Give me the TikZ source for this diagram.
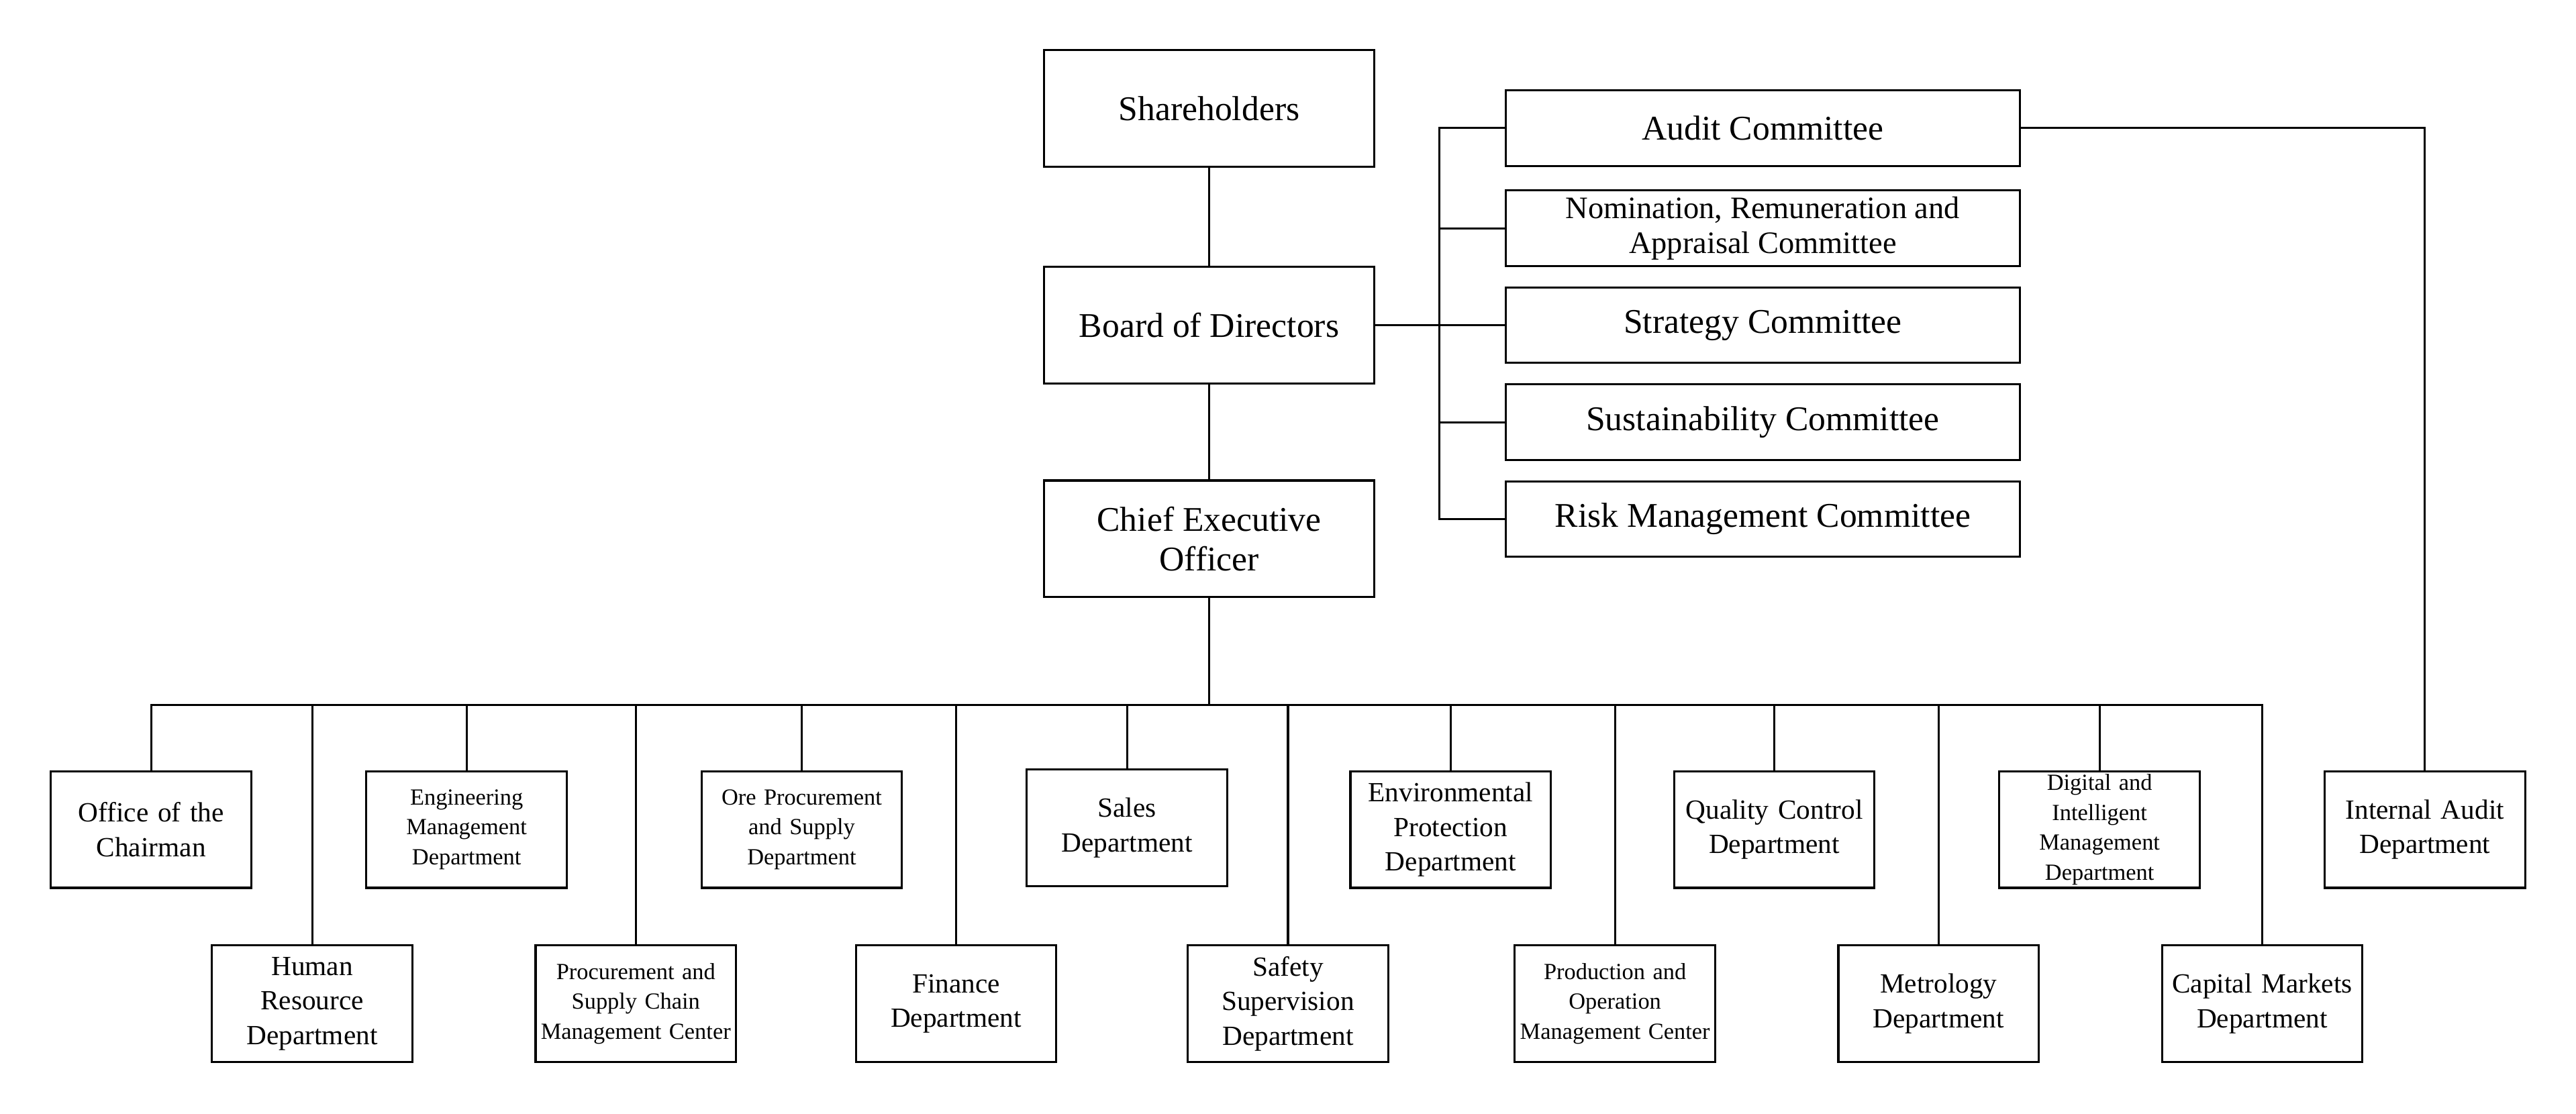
\documentclass[tikz,border=0pt]{standalone}
\usepackage{fontspec}
\setmainfont{Liberation Serif}
\usetikzlibrary{positioning}

\tikzset{
  box/.style={draw, line width=0.9pt, inner sep=1pt, align=center},
  head/.style={box, minimum width=201*0.025cm, minimum height=71*0.025cm, font=\fontsize{15}{17}\selectfont},
  cmte/.style={box, minimum width=313*0.025cm, minimum height=46*0.025cm, font=\fontsize{15}{17}\selectfont},
  dept/.style={box, minimum width=122*0.025cm, minimum height=71*0.025cm, text width=122*0.025cm-4pt, font=\fontsize{12}{15}\selectfont},
  small/.style={font=\fontsize{10}{13}\selectfont},
  link/.style={line width=0.9pt}
}

\begin{document}
\begin{tikzpicture}[x=0.025cm, y=-0.025cm]
  \useasboundingbox (0,0) rectangle (1568,678);

  % top of the chart
  \node[head] (share) at (736,66) {Shareholders};
  \node[head] (board) at (736,198) {Board of Directors};
  \node[head] (ceo) at (736,328) {Chief Executive\\Officer};

  % committees
  \node[cmte] (audit) at (1073,78) {Audit Committee};
  \node[cmte, font=\fontsize{13.5}{15}\selectfont] (nomin) at (1073,139) {Nomination, Remuneration and\\Appraisal Committee};
  \node[cmte] (strat) at (1073,198) {Strategy Committee};
  \node[cmte] (sustain) at (1073,257) {Sustainability Committee};
  \node[cmte] (risk) at (1073,316) {Risk Management Committee};
  \coordinate (cbus) at (876,198);

  % departments, upper row
  \node[dept] (chair) at (92,505) {Office of the\\Chairman};
  \node[dept, small] (eng) at (284,505) {Engineering\\Management\\Department};
  \node[dept, small] (ore) at (488,505) {Ore Procurement\\and Supply\\Department};
  \node[dept] (sales) at (686,504) {Sales\\Department};
  \node[dept] (env) at (883,505) {Environmental\\Protection\\Department};
  \node[dept] (qual) at (1080,505) {Quality Control\\Department};
  \node[dept, small] (digit) at (1278,505) {Digital and\\Intelligent\\Management\\Department};
  \node[dept] (inaudit) at (1476,505) {Internal Audit\\Department};

  % departments, lower row
  \node[dept] (hr) at (190,611) {Human Resource\\Department};
  \node[dept, small] (proc) at (387,611) {Procurement and\\Supply Chain\\Management Center};
  \node[dept] (fin) at (582,611) {Finance\\Department};
  \node[dept] (safe) at (784,611) {Safety\\Supervision\\Department};
  \node[dept, small] (prod) at (983,611) {Production and\\Operation\\Management Center};
  \node[dept] (metro) at (1180,611) {Metrology\\Department};
  \node[dept] (capital) at (1377,611) {Capital Markets\\Department};

  \coordinate (dbus) at (736,429);

  % connectors
  \draw[link] (share) -- (board);
  \draw[link] (board) -- (ceo);
  \draw[link] (ceo) -- (dbus);
  \draw[link] (board) -- (cbus);
  \draw[link] (audit.west) -| (cbus) |- (risk.west);
  \foreach \c in {nomin,strat,sustain}
    \draw[link] (\c.west) -- (\c.west -| cbus);
  \draw[link] (audit.east) -| (inaudit.north);
  \draw[link] (chair.north) |- (capital.north |- dbus) -- (capital.north);
  \foreach \d in {eng,ore,sales,env,qual,digit,hr,proc,fin,safe,prod,metro}
    \draw[link] (\d.north) -- (\d.north |- dbus);
\end{tikzpicture}
\end{document}
